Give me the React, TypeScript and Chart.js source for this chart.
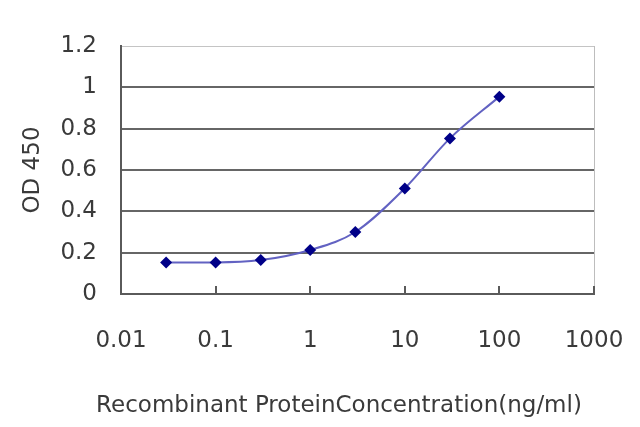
import { useEffect, useRef } from "react"
import { Chart, registerables } from "chart.js"

Chart.register(...registerables)

// ng/ml on a log axis, OD 450
const concentrations = [0.03, 0.1, 0.3, 1, 3, 10, 30, 100]
const odValues = [0.153, 0.153, 0.164, 0.213, 0.3, 0.511, 0.753, 0.955]
const xTickValues = [0.01, 0.1, 1, 10, 100, 1000]
const xTickLabels = ["0.01", "0.1", "1", "10", "100", "1000"]
const yTickLabels = ["0", "0.2", "0.4", "0.6", "0.8", "1", "1.2"]

const xTitle = "Recombinant ProteinConcentration(ng/ml)"
const yTitle = "OD 450"

const FONT = "'DejaVu Sans', sans-serif"
const TEXT = "#3a3a3a"
const AXIS = "#5a5a5a"

// x title sits off-centre in the original, and the tick marks point inwards
const extrasPlugin = {
  id: "extras",
  afterDraw(chart: Chart) {
    const ctx = chart.ctx
    const x = chart.scales.x
    const bottom = chart.chartArea.bottom
    ctx.save()
    ctx.strokeStyle = AXIS
    ctx.lineWidth = 2
    for (const v of xTickValues) {
      const px = Math.round(x.getPixelForValue(v))
      ctx.beginPath()
      ctx.moveTo(px, bottom)
      ctx.lineTo(px, bottom - 8)
      ctx.stroke()
    }
    ctx.font = `23px ${FONT}`
    ctx.fillStyle = TEXT
    ctx.textAlign = "center"
    ctx.textBaseline = "middle"
    ctx.fillText(xTitle, 339, 406)
    ctx.restore()
  },
}

export default function App() {
  const canvasRef = useRef<HTMLCanvasElement | null>(null)
  const chartRef = useRef<Chart | null>(null)

  useEffect(() => {
    if (!canvasRef.current) return
    if (chartRef.current) chartRef.current.destroy()

    const ctx = canvasRef.current.getContext("2d")
    if (!ctx) return

    chartRef.current = new Chart(ctx, {
      type: "line",
      data: {
        datasets: [
          {
            data: concentrations.map((c, i) => ({ x: c, y: odValues[i] })),
            borderColor: "#6262c2",
            borderWidth: 2,
            backgroundColor: "#000088",
            pointBackgroundColor: "#000088",
            pointBorderColor: "#000088",
            pointStyle: "rectRot",
            pointRadius: 6,
            pointBorderWidth: 0,
            cubicInterpolationMode: "monotone",
            fill: false,
          },
        ],
      },
      options: {
        responsive: false,
        animation: false,
        events: [],
        layout: { padding: { top: 46, right: 46, left: 0, bottom: 0 } },
        plugins: {
          legend: { display: false },
          tooltip: { enabled: false },
        },
        scales: {
          x: {
            type: "logarithmic",
            min: 0.01,
            max: 1000,
            afterBuildTicks: (scale: any) => {
              scale.ticks = xTickValues.map((v) => ({ value: v }))
            },
            afterFit: (scale: any) => {
              scale.height = 133
              scale.paddingLeft = 0
              scale.paddingRight = 0
            },
            ticks: {
              autoSkip: false,
              maxRotation: 0,
              padding: 33,
              color: TEXT,
              font: { family: FONT, size: 23, lineHeight: 1.2 },
              callback: (value: any) => {
                const i = xTickValues.indexOf(Number(value))
                return i >= 0 ? xTickLabels[i] : ""
              },
            },
            grid: {
              drawOnChartArea: true,
              drawTicks: false,
              color: (c: any) => (c.tick && c.tick.value === 1000 ? "#bdbdbd" : "rgba(0,0,0,0)"),
              lineWidth: 1,
            },
            border: { display: true, color: AXIS, width: 2 },
          },
          y: {
            min: 0,
            max: 1.2,
            afterFit: (scale: any) => {
              scale.width = 121
              scale.paddingTop = 0
              scale.paddingBottom = 0
            },
            ticks: {
              stepSize: 0.2,
              padding: 24,
              color: TEXT,
              font: { family: FONT, size: 23, lineHeight: 1.2 },
              callback: (value: any) => {
                const i = Math.round(Number(value) / 0.2)
                return yTickLabels[i] ?? ""
              },
            },
            grid: {
              drawTicks: false,
              color: (c: any) => (c.tick && Math.abs(c.tick.value - 1.2) < 1e-6 ? "#c4c4c4" : "#666666"),
              lineWidth: (c: any) => (c.tick && Math.abs(c.tick.value - 1.2) < 1e-6 ? 1 : 2),
            },
            border: { display: true, color: AXIS, width: 2 },
            title: {
              display: true,
              text: yTitle,
              color: TEXT,
              font: { family: FONT, size: 23, lineHeight: 1.2 },
              padding: { top: 19, bottom: 0 },
            },
          },
        },
      },
      plugins: [extrasPlugin],
    })

    return () => {
      if (chartRef.current) {
        chartRef.current.destroy()
        chartRef.current = null
      }
    }
  }, [])

  return (
    <div style={{ position: "absolute", left: 0, top: 0, width: 640, height: 427, background: "#fff" }}>
      <canvas ref={canvasRef} width={640} height={427} style={{ display: "block" }} />
    </div>
  )
}
